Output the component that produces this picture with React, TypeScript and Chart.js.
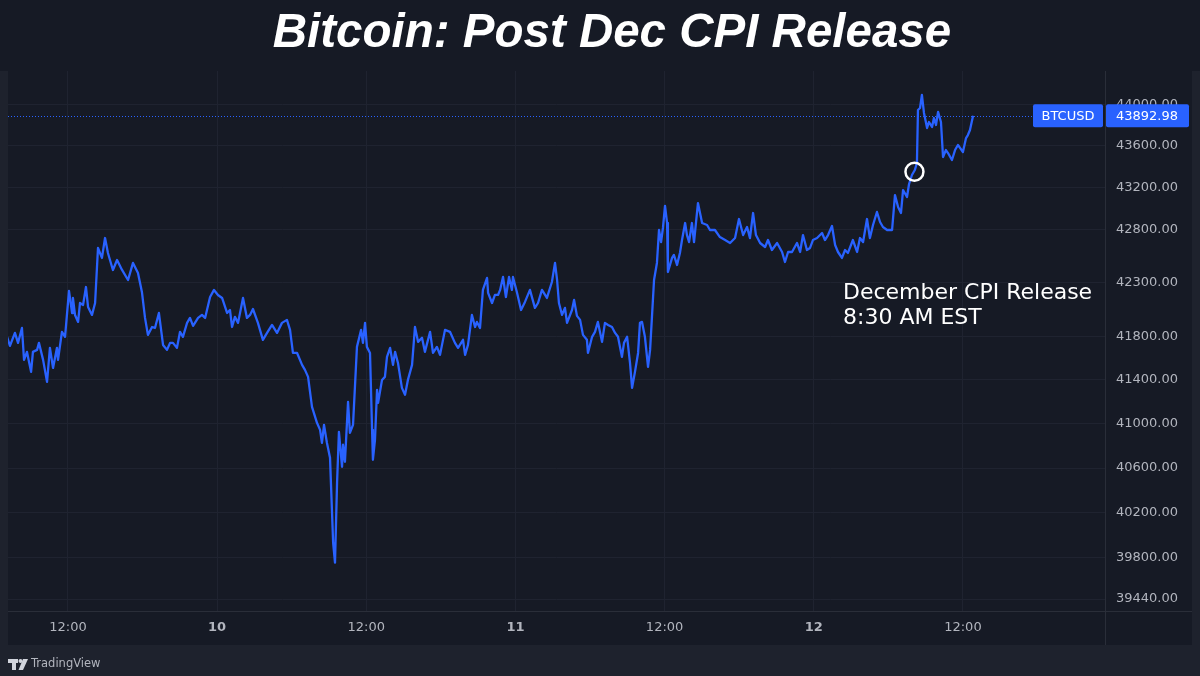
import { useEffect, useRef } from "react";
import { Chart, registerables } from "chart.js";

Chart.register(...registerables);

// Minutes since Jan 9 00:00 (chart time zone)
const timesMin = [
  426, 440, 464, 479, 498, 508, 522, 542, 551, 571, 580, 600, 619, 633, 648, 667, 672, 691, 706, 725,
  740, 744, 754, 769, 778, 793, 807, 817, 836, 851, 865, 884, 899, 913, 937, 957, 981, 1010, 1034, 1058,
  1077, 1092, 1106, 1126, 1140, 1159, 1179, 1198, 1213, 1227, 1246, 1261, 1275, 1295, 1309, 1324, 1348, 1367, 1382, 1406,
  1425, 1444, 1464, 1488, 1502, 1512, 1526, 1541, 1565, 1584, 1599, 1613, 1637, 1661, 1681, 1705, 1729, 1753, 1777, 1792,
  1806, 1826, 1850, 1864, 1879, 1898, 1922, 1937, 1946, 1956, 1970, 1985, 2000, 2009, 2019, 2028, 2043, 2048, 2057, 2072,
  2081, 2096, 2115, 2135, 2144, 2154, 2163, 2178, 2188, 2192, 2202, 2212, 2217, 2236, 2250, 2260, 2275, 2289, 2299, 2313,
  2332, 2347, 2361, 2381, 2395, 2410, 2429, 2443, 2468, 2482, 2501, 2516, 2540, 2564, 2588, 2603, 2627, 2637, 2651, 2670,
  2685, 2694, 2709, 2723, 2743, 2748, 2767, 2781, 2796, 2806, 2820, 2834, 2849, 2863, 2868, 2888, 2907, 2926, 2950, 2974,
  2989, 3008, 3032, 3056, 3071, 3081, 3090, 3105, 3119, 3129, 3153, 3163, 3177, 3192, 3206, 3225, 3230, 3250, 3264, 3278,
  3298, 3312, 3327, 3346, 3361, 3375, 3394, 3404, 3419, 3433, 3443, 3457, 3472, 3481, 3491, 3505, 3520, 3530, 3539, 3549,
  3563, 3573, 3583, 3592, 3602, 3612, 3616, 3636, 3645, 3660, 3674, 3684, 3699, 3708, 3718, 3732, 3742, 3761, 3781, 3805,
  3819, 3843, 3867, 3892, 3916, 3940, 3959, 3979, 3998, 4012, 4027, 4041, 4061, 4085, 4099, 4118, 4143, 4167, 4181, 4196,
  4215, 4239, 4254, 4268, 4287, 4302, 4316, 4336, 4360, 4374, 4389, 4408, 4423, 4437, 4456, 4471, 4485, 4509, 4529, 4543,
  4558, 4577, 4591, 4606, 4625, 4640, 4654, 4674, 4698, 4712, 4727, 4741, 4751, 4770, 4780, 4794, 4808, 4818, 4823, 4833,
  4842, 4852, 4867, 4876, 4891, 4900, 4910, 4920, 4934, 4944, 4958, 4968, 4987, 5002, 5016, 5026, 5040, 5055, 5064, 5074,
  5089,
];

const prices = [
  41797, 41713, 41833, 41741, 41879, 41584, 41658, 41474, 41658, 41676, 41741, 41584, 41382, 41695, 41510, 41695, 41584, 41843, 41797, 42224,
  42018, 42158, 42000, 41935, 42111, 42093, 42260, 42074, 42000, 42111, 42627, 42533, 42721, 42580, 42420, 42514, 42420, 42326, 42486, 42392,
  42214, 41972, 41815, 41888, 41879, 42018, 41722, 41676, 41741, 41741, 41695, 41843, 41797, 41926, 41972, 41898, 41972, 42000, 41972, 42167,
  42233, 42186, 42158, 42018, 42046, 41888, 41982, 41926, 42158, 41972, 42000, 42055, 41926, 41769, 41833, 41907, 41833, 41926, 41954, 41861,
  41648, 41648, 41538, 41492, 41428, 41154, 41009, 40945, 40828, 40990, 40828, 40692, 39935, 39759, 40468, 40927, 40612, 40810, 40657, 41200,
  40918, 40990, 41704, 41861, 41741, 41926, 41704, 41648, 40945, 40675, 40855, 41309, 41190, 41400, 41428, 41612, 41695, 41538, 41658, 41556,
  41327, 41264, 41400, 41538, 41888, 41750, 41788, 41658, 41843, 41648, 41704, 41630, 41861, 41843, 41741, 41695, 41769, 41630, 41722, 42000,
  41888, 41935, 41879, 42233, 42345, 42205, 42111, 42186, 42186, 42233, 42354, 42167, 42354, 42233, 42354, 42205, 42046, 42121, 42233, 42065,
  42111, 42233, 42158, 42307, 42486, 42326, 42111, 42000, 42065, 41926, 42046, 42139, 41991, 41954, 41815, 41769, 41648, 41797, 41843, 41935,
  41750, 41926, 41907, 41888, 41833, 41797, 41612, 41741, 41797, 41556, 41327, 41474, 41648, 41926, 41935, 41797, 41520, 41676, 41982, 42326,
  42486, 42797, 42683, 42816, 43025, 42863, 42401, 42533, 42561, 42467, 42580, 42702, 42863, 42749, 42683, 42863, 42683, 43053, 42863, 42844,
  42797, 42797, 42730, 42702, 42674, 42721, 42901, 42749, 42825, 42721, 42958, 42749, 42674, 42636, 42702, 42608, 42674, 42589, 42495, 42589,
  42589, 42674, 42589, 42749, 42608, 42627, 42702, 42721, 42768, 42702, 42749, 42835, 42655, 42589, 42533, 42608, 42580, 42702, 42589, 42721,
  42683, 42901, 42721, 42844, 42968, 42873, 42825, 42797, 42797, 43129, 43015, 42958, 43177, 43111, 43235, 43321, 43369, 43436, 43949, 43968,
  44095, 43920, 43774, 43832, 43784, 43871, 43803, 43930, 43832, 43494, 43561, 43532, 43465, 43561, 43610, 43581, 43542, 43677, 43706, 43755,
  43892.98,
];

const yTickValues = [39440, 39800, 40200, 40600, 41000, 41400, 41800, 42300, 42800, 43200, 43600, 44000];
const xTickValues = [720, 1440, 2160, 2880, 3600, 4320, 5040];
const firstDay = 9;

const titleText = "Bitcoin: Post Dec CPI Release";
const symbolText = "BTCUSD";
const lastPrice = 43892.98;
const annotationLines = ["December CPI Release", "8:30 AM EST"];
const cpiTime = 4806;
const cpiPrice = 43352;

const X_MIN = 430.6;
const X_MAX = 5725.8;
const Y_MIN = 39335.8;
const Y_MAX = 44329.8;

const FRAME = "#1e222d";
const PANEL = "#161a25";
const GRID = "#1f2330";
const SEP = "#2a2e39";
const TEXT = "#b2b5be";
const BLUE = "#2962ff";
const FONT = "'DejaVu Sans', sans-serif";

export default function App() {
  const ref = useRef<HTMLCanvasElement | null>(null);

  useEffect(() => {
    const canvas = ref.current;
    if (!canvas) return;

    const decor = {
      id: "decor",
      beforeDraw(chart: any) {
        const ctx = chart.ctx;
        ctx.save();
        ctx.fillStyle = FRAME;
        ctx.fillRect(0, 0, 1200, 676);
        ctx.fillStyle = PANEL;
        ctx.fillRect(0, 0, 1200, 71);
        ctx.fillRect(8, 71, 1184, 574);
        ctx.restore();
      },
      afterDraw(chart: any) {
        const ctx = chart.ctx;
        const ca = chart.chartArea;
        const xs = chart.scales.x;
        const ys = chart.scales.y;
        ctx.save();

        // separators
        ctx.strokeStyle = SEP;
        ctx.lineWidth = 1;
        ctx.beginPath();
        ctx.moveTo(ca.right + 0.5, ca.top);
        ctx.lineTo(ca.right + 0.5, 645);
        ctx.moveTo(8, ca.bottom + 0.5);
        ctx.lineTo(1192, ca.bottom + 0.5);
        ctx.stroke();

        // title
        ctx.fillStyle = "#ffffff";
        ctx.font = "italic bold 47.5px 'Liberation Sans', Arial, sans-serif";
        ctx.textAlign = "center";
        ctx.textBaseline = "alphabetic";
        ctx.fillText(titleText, 612, 47);

        // last price dotted line
        const py = ys.getPixelForValue(lastPrice);
        ctx.strokeStyle = BLUE;
        ctx.setLineDash([1, 2]);
        ctx.beginPath();
        ctx.moveTo(ca.left, Math.round(py) + 0.5);
        ctx.lineTo(1033, Math.round(py) + 0.5);
        ctx.stroke();
        ctx.setLineDash([]);

        // labels
        const top = py - 11.5;
        ctx.fillStyle = BLUE;
        ctx.beginPath();
        (ctx as any).roundRect(1033, top, 70, 23, 2);
        ctx.fill();
        ctx.beginPath();
        (ctx as any).roundRect(ca.right + 1, top, 83, 23, 2);
        ctx.fill();
        ctx.fillStyle = "#ffffff";
        ctx.font = `13px ${FONT}`;
        ctx.textBaseline = "middle";
        ctx.textAlign = "center";
        ctx.fillText(symbolText, 1068, py + 0.5);
        ctx.textAlign = "left";
        ctx.fillText(lastPrice.toFixed(2), ca.right + 11, py + 0.5);

        // circle at CPI release
        const cx = xs.getPixelForValue(cpiTime);
        const cy = ys.getPixelForValue(cpiPrice);
        ctx.strokeStyle = "#ffffff";
        ctx.lineWidth = 2.5;
        ctx.beginPath();
        ctx.arc(cx, cy, 9, 0, Math.PI * 2);
        ctx.stroke();

        // annotation text
        ctx.fillStyle = "#ffffff";
        ctx.font = `22px ${FONT}`;
        ctx.textAlign = "left";
        ctx.textBaseline = "alphabetic";
        ctx.fillText(annotationLines[0], 843, 299);
        ctx.fillText(annotationLines[1], 843, 324);

        // TradingView logo
        ctx.fillStyle = "#d1d4dc";
        ctx.fillRect(8, 659, 10, 4);
        ctx.fillRect(12, 659, 4, 11);
        ctx.beginPath();
        ctx.arc(20.5, 661, 2, 0, Math.PI * 2);
        ctx.fill();
        ctx.beginPath();
        ctx.moveTo(23, 659);
        ctx.lineTo(28, 659);
        ctx.lineTo(23, 670);
        ctx.lineTo(18.5, 670);
        ctx.closePath();
        ctx.fill();
        ctx.fillStyle = TEXT;
        ctx.font = `11.5px ${FONT}`;
        ctx.textBaseline = "middle";
        ctx.fillText("TradingView", 31, 664.5);

        ctx.restore();
      },
    };

    const chart = new Chart(canvas, {
      type: "line",
      data: {
        datasets: [
          {
            data: timesMin.map((t, i) => ({ x: t, y: prices[i] })),
            borderColor: BLUE,
            borderWidth: 2.3,
            borderJoinStyle: "round",
            pointRadius: 0,
            tension: 0,
            fill: false,
          },
        ],
      },
      options: {
        responsive: false,
        animation: false,
        layout: { padding: { top: 71, left: 8, right: 8, bottom: 31 } },
        plugins: {
          legend: { display: false },
          title: { display: false },
          tooltip: { enabled: false },
        },
        scales: {
          x: {
            type: "linear",
            min: X_MIN,
            max: X_MAX,
            afterBuildTicks: (s: any) => {
              s.ticks = xTickValues.map((v) => ({ value: v }));
            },
            afterFit: (s: any) => {
              s.height = 34;
            },
            grid: { color: GRID, drawTicks: false },
            border: { display: false },
            ticks: {
              color: TEXT,
              padding: 9,
              autoSkip: false,
              maxRotation: 0,
              font: (c: any) => ({
                family: FONT,
                size: 13,
                weight: c.tick && c.tick.value % 1440 === 0 ? "bold" : "normal",
              }),
              callback: (v: any) =>
                Number(v) % 1440 === 0 ? String(firstDay + Number(v) / 1440) : "12:00",
            },
          },
          y: {
            type: "logarithmic",
            position: "right",
            min: Y_MIN,
            max: Y_MAX,
            afterBuildTicks: (s: any) => {
              s.ticks = yTickValues.map((v) => ({ value: v }));
            },
            afterFit: (s: any) => {
              s.width = 87;
            },
            grid: { color: GRID, drawTicks: false },
            border: { display: false },
            ticks: {
              color: TEXT,
              padding: 11,
              autoSkip: false,
              font: { family: FONT, size: 13 },
              callback: (v: any) => Number(v).toFixed(2),
            },
          },
        },
      },
      plugins: [decor],
    });

    return () => chart.destroy();
  }, []);

  return (
    <div style={{ position: "absolute", left: 0, top: 0, width: 1200, height: 676 }}>
      <canvas ref={ref} width={1200} height={676} style={{ display: "block" }} />
    </div>
  );
}
